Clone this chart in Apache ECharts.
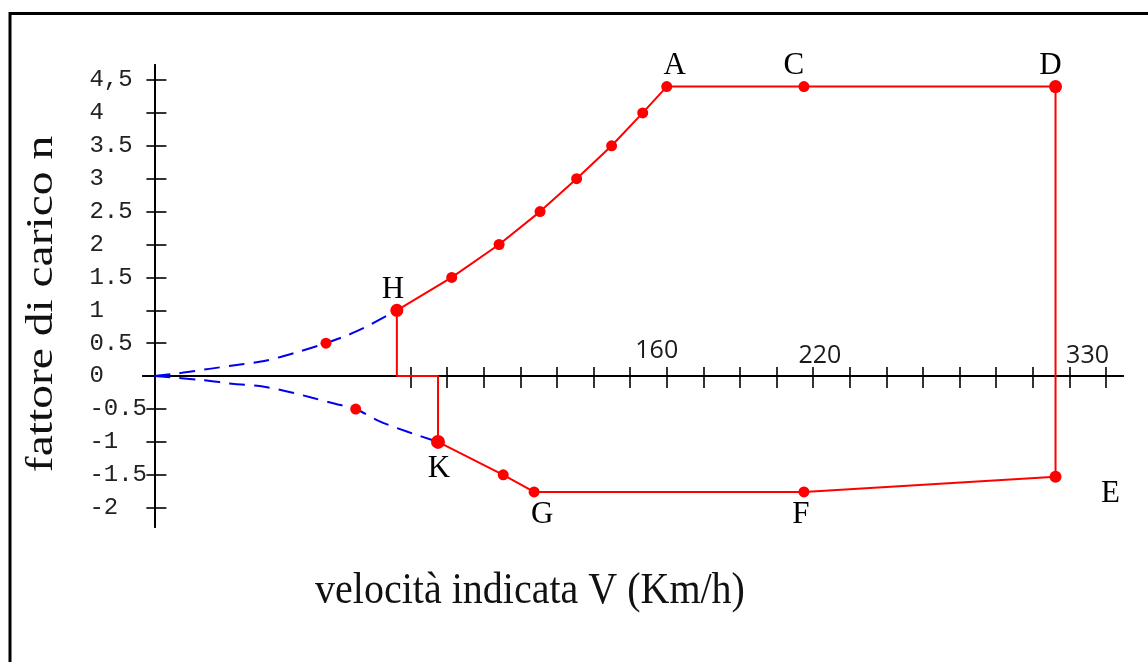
<!DOCTYPE html>
<html>
<head>
<meta charset="utf-8">
<title>Diagramma di manovra</title>
<script src="https://cdn.jsdelivr.net/npm/echarts@6/dist/echarts.min.js"></script>
<style>
  html, body { margin: 0; padding: 0; background: #fff; }
  #chart { width: 1148px; height: 662px; }
</style>
</head>
<body>
<div id="chart"></div>
<script>
// Manoeuvre envelope: load factor n against indicated airspeed V (km/h)

// stall curves (dashed), from the axis origin up to H and down to K
const stallPosV = [-64, -52, -40, -28, -16, -3, 11, 25, 42];
const stallPosN = [0, 0.05, 0.11, 0.17, 0.23, 0.35, 0.5, 0.69, 1];
const stallNegV = [-64, -43, -29, -18, -5, 5, 15, 24, 34, 47, 60];
const stallNegN = [0, -0.06, -0.12, -0.15, -0.24, -0.33, -0.42, -0.5, -0.68, -0.85, -1];

// envelope outline H -> A -> C -> D -> E -> F -> G -> K -> axis -> H
const envelopeV = [42, 66, 86.7, 104.6, 120.6, 135.9, 149.5, 160, 220, 330, 330, 220, 102, 88.5, 60, 60, 42, 42];
const envelopeN = [1, 1.5, 2, 2.5, 3, 3.5, 4, 4.4, 4.4, 4.4, -1.53, -1.76, -1.76, -1.5, -1, 0, 0, 1];

// named corner points
const pointNames = ['H', 'A', 'C', 'D', 'E', 'F', 'G', 'K'];
const pointV = [42, 160, 220, 330, 330, 220, 102, 60];
const pointN = [1, 4.4, 4.4, 4.4, -1.53, -1.76, -1.76, -1];

// other plotted points along the curves
const markV = [11, 24, 66, 86.7, 104.6, 120.6, 135.9, 149.5, 88.5];
const markN = [0.5, -0.5, 1.5, 2, 2.5, 3, 3.5, 4, -1.5];

// axis ticks and labels
const yTickValues = [-2, -1.5, -1, -0.5, 0, 0.5, 1, 1.5, 2, 2.5, 3, 3.5, 4, 4.5];
const yTickLabels = ['-2', '-1.5', '-1', '-0.5', '0', '0.5', '1', '1.5', '2', '2.5', '3', '3.5', '4', '4,5'];
const vTickValues = [48, 64, 80, 96, 112, 128, 144, 160, 176, 192, 208, 224, 240, 256, 272, 288, 304, 320, 336, 352];
const vLabelValues = [160, 220, 330];

// ---- layout and styling ----
const V_MIN = -69, V_MAX = 359.5;
const N_MIN = -2.293, N_MAX = 4.728;
const GRID_TOP = 65, GRID_BOTTOM = 135, CHART_H = 662;
const N_AXIS_SHIFT = -11.4;           // n axis sits slightly right of the grid edge
// the upper copy of the V axis is pulled down from the grid top onto n = 0
const ZERO_FROM_TOP = (CHART_H - GRID_TOP - GRID_BOTTOM) * N_MAX / (N_MAX - N_MIN);

const labelOffset = { H: [-4, -20], A: [8, -21], C: [-10, -21], D: [-5, -21], E: [55, 17], F: [-3, 23], G: [8, 23], K: [1, 27] };
const dotSize = { H: 13, K: 14, D: 13, E: 12 };
const vLabelStyle = { 160: 'a', 220: 'b', 330: 'c' };

const pairs = (xs, ys) => xs.map((x, i) => [x, ys[i]]);
const nearestIndex = (arr, v) => {
  let best = 0;
  arr.forEach((a, i) => { if (Math.abs(a - v) < Math.abs(arr[best] - v)) best = i; });
  return best;
};

const axisLineStyle = { color: '#000', width: 2 };
const tickLineStyle = { color: '#000', width: 1.6 };

const nAxisBase = {
  type: 'value', min: N_MIN, max: N_MAX, position: 'left', offset: N_AXIS_SHIFT,
  splitLine: { show: false },
  axisLine: { show: true, onZero: false, lineStyle: axisLineStyle }
};

const chart = echarts.init(document.getElementById('chart'), null, { renderer: 'canvas' });

chart.setOption({
  animation: false,
  backgroundColor: '#ffffff',
  grid: { left: 143, right: 25, top: GRID_TOP, bottom: GRID_BOTTOM, containLabel: false, outerBoundsMode: 'none' },
  xAxis: [
    {
      type: 'value', min: V_MIN, max: V_MAX, position: 'bottom',
      splitLine: { show: false },
      axisLine: { show: true, onZero: true, onZeroAxisIndex: 0, lineStyle: axisLineStyle },
      axisTick: { show: true, inside: false, length: 12, customValues: vTickValues, lineStyle: tickLineStyle },
      axisLabel: { show: false }
    },
    {
      type: 'value', min: V_MIN, max: V_MAX, position: 'top', offset: -ZERO_FROM_TOP,
      splitLine: { show: false },
      axisLine: { show: true, onZero: false, lineStyle: axisLineStyle },
      axisTick: { show: true, inside: false, length: 9, customValues: vTickValues, lineStyle: tickLineStyle },
      axisLabel: {
        show: true, margin: 8, customValues: vLabelValues,
        formatter: (v) => {
          const val = vLabelValues[nearestIndex(vLabelValues, v)];
          return '{' + vLabelStyle[val] + '|' + val + '}';
        },
        rich: {
          a: { fontFamily: 'Open Sans', fontSize: 25, color: '#1a1a1a', padding: [0, 20, 5, 0] },
          b: { fontFamily: 'Open Sans', fontSize: 25, color: '#1a1a1a', padding: [0, 0, 0, 32] },
          c: { fontFamily: 'Open Sans', fontSize: 25, color: '#1a1a1a', padding: [0, 0, 0, 64] }
        }
      }
    }
  ],
  yAxis: [
    Object.assign({}, nAxisBase, {
      axisTick: { show: true, inside: false, length: 8, customValues: yTickValues, lineStyle: tickLineStyle },
      axisLabel: {
        show: true, customValues: yTickValues, align: 'left', margin: 65,
        fontFamily: 'Liberation Mono', fontSize: 24, color: '#222',
        formatter: (v) => yTickLabels[nearestIndex(yTickValues, v)]
      }
    }),
    Object.assign({}, nAxisBase, {
      axisTick: { show: true, inside: true, length: 12, customValues: yTickValues, lineStyle: tickLineStyle },
      axisLabel: { show: false }
    })
  ],
  graphic: [
    {
      type: 'rect', silent: true,
      shape: { x: 10, y: 13.5, width: 1200, height: 700 },
      style: { fill: 'none', stroke: '#000', lineWidth: 3 }
    },
    {
      type: 'text', silent: true, x: 530, y: 591, scaleY: 1.12,
      style: {
        text: 'velocità indicata V (Km/h)', fontFamily: 'Liberation Serif', fontSize: 40,
        fill: '#111', align: 'center', verticalAlign: 'middle'
      }
    },
    {
      type: 'text', silent: true, x: 42, y: 304, rotation: Math.PI / 2, scaleX: 1.25,
      style: {
        text: 'fattore di carico n', fontFamily: 'Liberation Serif', fontSize: 38,
        fill: '#111', align: 'center', verticalAlign: 'middle'
      }
    }
  ],
  series: [
    {
      type: 'line', silent: true, z: 2,
      data: pairs(stallPosV, stallPosN), smooth: 0.3, showSymbol: false,
      lineStyle: { color: '#0000ee', width: 2, type: [16, 9] }
    },
    {
      type: 'line', silent: true, z: 2,
      data: pairs(stallNegV, stallNegN), smooth: 0.3, showSymbol: false,
      lineStyle: { color: '#0000ee', width: 2, type: [16, 9] }
    },
    {
      type: 'line', silent: true, z: 3,
      data: pairs(envelopeV, envelopeN), showSymbol: false,
      lineStyle: { color: '#ff0000', width: 2 }
    },
    {
      type: 'scatter', silent: true, z: 4,
      data: pairs(markV, markN), symbol: 'circle', symbolSize: 11,
      itemStyle: { color: '#ff0000', opacity: 1 }
    },
    {
      type: 'scatter', silent: true, z: 5,
      data: pointNames.map((name, i) => ({
        name: name,
        value: [pointV[i], pointN[i]],
        symbolSize: dotSize[name] || 11,
        label: { offset: labelOffset[name] }
      })),
      symbol: 'circle',
      itemStyle: { color: '#ff0000', opacity: 1 },
      label: {
        show: true, position: 'inside', formatter: '{b}',
        fontFamily: 'Liberation Serif', fontSize: 31, color: '#000',
        textBorderWidth: 0
      }
    }
  ]
});
</script>
</body>
</html>
